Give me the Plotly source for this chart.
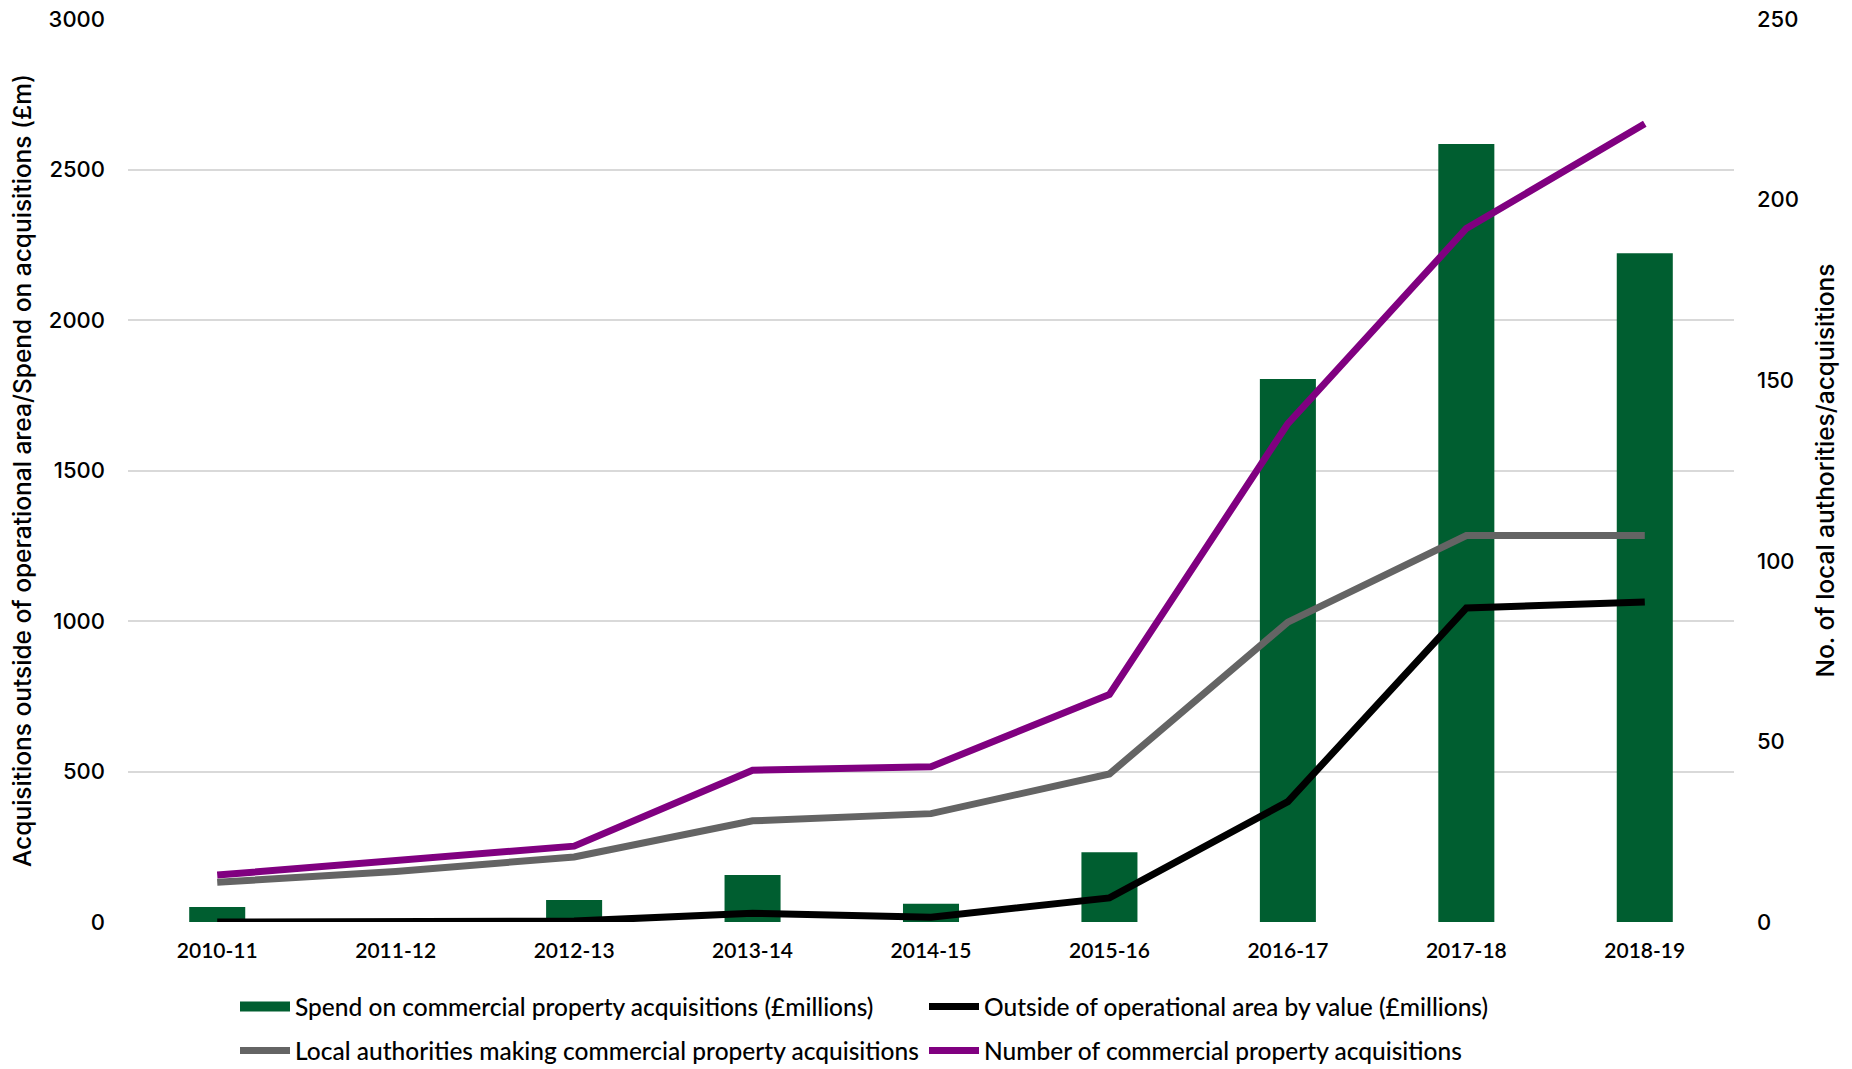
import plotly.graph_objects as go

years = ["2010-11", "2011-12", "2012-13", "2013-14", "2014-15",
         "2015-16", "2016-17", "2017-18", "2018-19"]
spend = [50, None, 73, 156, 61, 232, 1804, 2585, 2222]
outside_value = [0, 0, 3, 29, 16, 80, 400, 1043, 1063]
local_authorities = [11, 14, 18, 28, 30, 41, 83, 107, 107]
num_acquisitions = [13, 17, 21, 42, 43, 63, 138, 192, 221]

left_ticks = [0, 500, 1000, 1500, 2000, 2500, 3000]
right_ticks = [0, 50, 100, 150, 200, 250]

GREEN = "#005E30"
BLACK = "#000000"
GREY = "#646464"
PURPLE = "#800080"

TICK_FONT = dict(family="Inter, Open Sans, sans-serif", size=22, color="#000000", weight=500)
TITLE_FONT = dict(family="Inter, Open Sans, sans-serif", size=24.5, color="#000000", weight=500)
LEG_FONT = dict(family="Lato, sans-serif", size=24.5, color="#000000", weight=500)

fig = go.Figure()
fig.add_trace(go.Bar(
    x=years, y=spend, name="Spend on commercial property acquisitions (£millions)",
    marker=dict(color=GREEN, line=dict(width=0)), yaxis="y", showlegend=False,
    legendgroup="spend",
))
# legend entry for the bars (wide rectangular swatch)
fig.add_trace(go.Scatter(
    x=[None], y=[None], name="Spend on commercial property acquisitions (£millions)",
    mode="lines", line=dict(color=GREEN, width=13), yaxis="y", legend="legend",
    legendgroup="spend", hoverinfo="skip",
))
fig.add_trace(go.Scatter(
    x=years, y=num_acquisitions, name="Number of commercial property acquisitions",
    mode="lines", line=dict(color=PURPLE, width=7), yaxis="y2", legend="legend2",
))
fig.add_trace(go.Scatter(
    x=years, y=local_authorities, name="Local authorities making commercial property acquisitions",
    mode="lines", line=dict(color=GREY, width=7), yaxis="y2", legend="legend2",
))
fig.add_trace(go.Scatter(
    x=years, y=outside_value, name="Outside of operational area by value (£millions)",
    mode="lines", line=dict(color=BLACK, width=7), yaxis="y", legend="legend",
))

fig.update_layout(
    width=1852, height=1069,
    margin=dict(l=128, r=118, t=19, b=147, autoexpand=False),
    plot_bgcolor="white", paper_bgcolor="white",
    bargap=0.686,
    xaxis=dict(
        type="category", categoryorder="array", categoryarray=years,
        showgrid=False, showline=False, zeroline=False, ticks="",
        tickfont=dict(family="Lato, sans-serif", size=21, color="#000000", weight=600),
        ticklabelstandoff=14,
    ),
    yaxis=dict(
        range=[0, 3000], tickvals=left_ticks, showgrid=True, gridcolor="#D9D9D9",
        gridwidth=2, zeroline=False, showline=False, ticks="",
        tickfont=TICK_FONT, ticklabelstandoff=22,
        title=dict(text="Acquisitions outside of operational area/Spend on acquisitions (£m)",
                   font=TITLE_FONT, standoff=10),
    ),
    yaxis2=dict(
        range=[0, 250], tickvals=right_ticks, overlaying="y", side="right",
        showgrid=False, zeroline=False, showline=False, ticks="",
        tickfont=TICK_FONT, ticklabelstandoff=22,
        title=dict(text="No. of local authorities/acquisitions",
                   font=TITLE_FONT, standoff=18),
    ),
    legend=dict(
        orientation="h", xref="container", yref="container",
        x=235 / 1852, y=1 - 984 / 1069, xanchor="left", yanchor="top",
        font=LEG_FONT, entrywidth=624, itemwidth=50, traceorder="normal",
        bgcolor="rgba(0,0,0,0)",
    ),
    legend2=dict(
        orientation="h", xref="container", yref="container",
        x=235 / 1852, y=1 - 1028 / 1069, xanchor="left", yanchor="top",
        font=LEG_FONT, entrywidth=624, itemwidth=50, traceorder="reversed",
        bgcolor="rgba(0,0,0,0)",
    ),
    showlegend=True,
)

fig.write_html("out.html")
